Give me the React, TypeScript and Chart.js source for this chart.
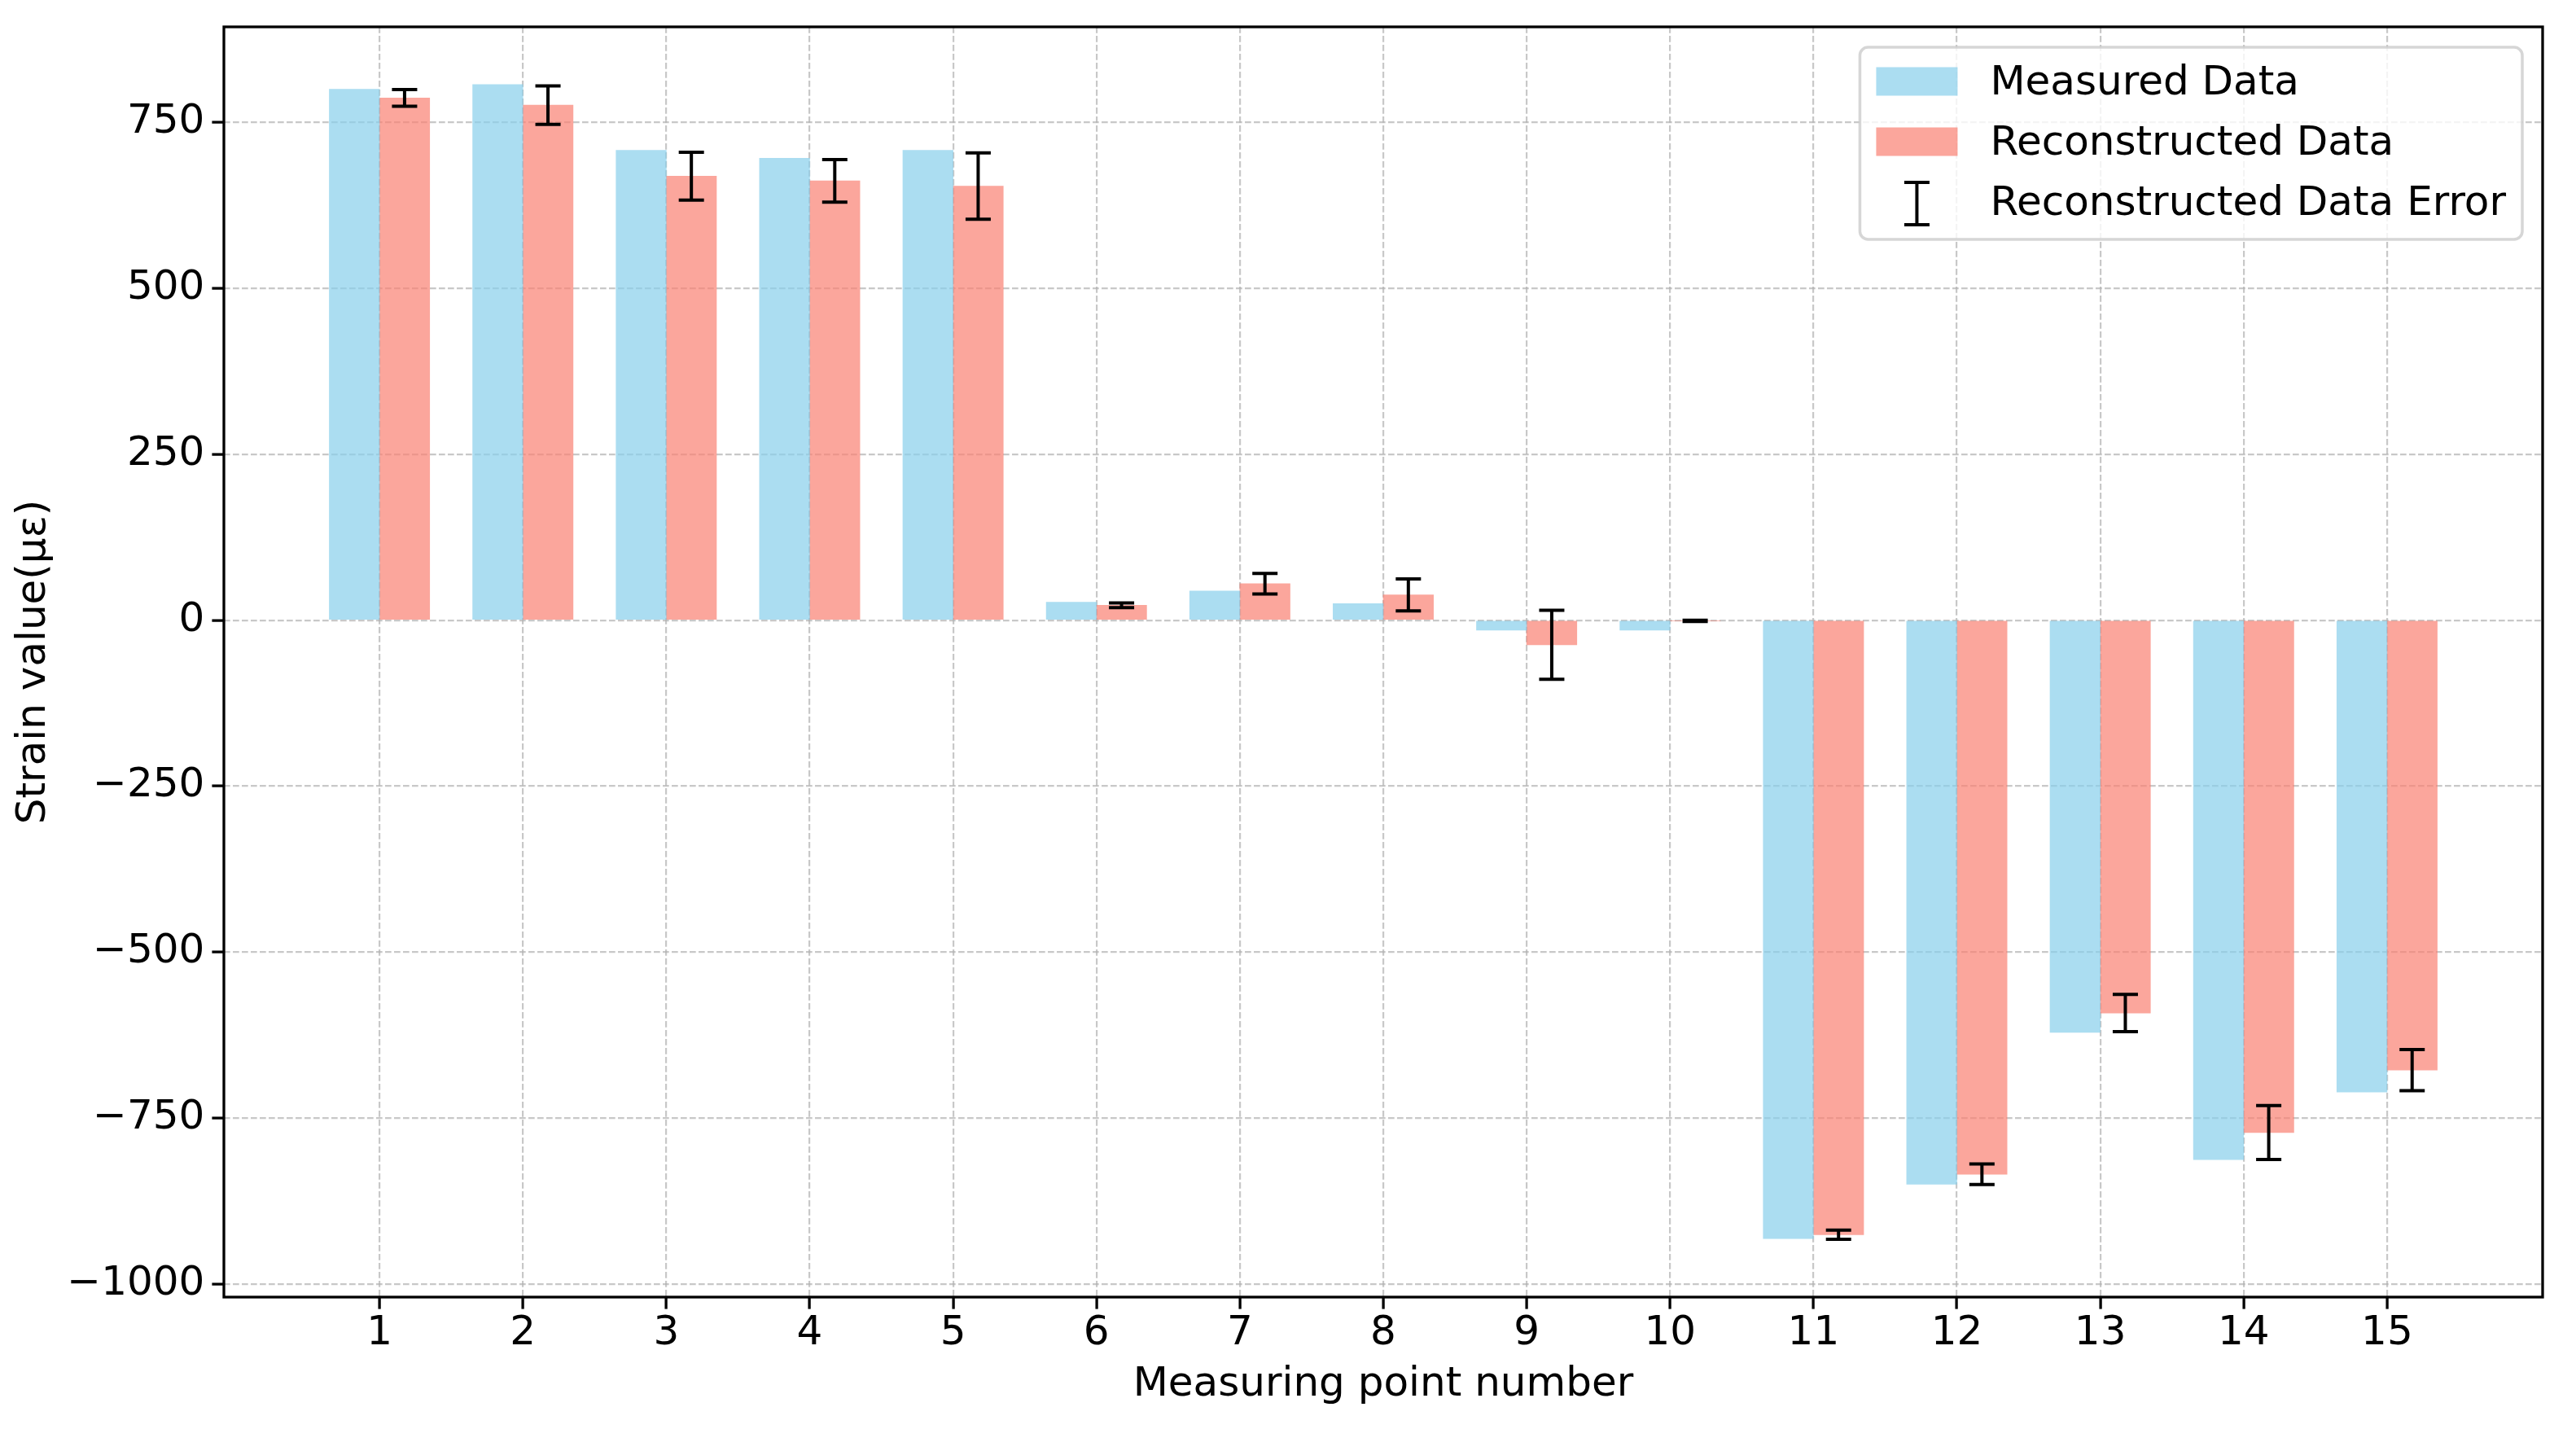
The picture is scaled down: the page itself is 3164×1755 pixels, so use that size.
import React, { useEffect, useRef } from 'react';
import { Chart, registerables } from 'chart.js';

Chart.register(...registerables);

// ---------------- data ----------------
const CATEGORIES = [1, 2, 3, 4, 5, 6, 7, 8, 9, 10, 11, 12, 13, 14, 15];
const MEASURED = [800, 807, 708, 696, 708, 27, 44, 25, -15, -15, -932, -850, -621, -813, -711];
const RECONSTRUCTED = [787, 776, 669, 662, 654, 22.5, 55, 38, -37, -1, -926, -835, -592, -772, -678];
const RECON_ERROR = [12.5, 29, 36, 32, 50, 3.5, 15.5, 24, 52, 1, 7, 15.5, 28, 40.5, 31];
const Y_TICKS = [-1000, -750, -500, -250, 0, 250, 500, 750];
const SERIES_LABELS = ['Measured Data', 'Reconstructed Data', 'Reconstructed Data Error'];
const X_TITLE = 'Measuring point number';
const Y_TITLE = 'Strain value(με)';

// ---------------- style / layout ----------------
const W = 3164;
const H = 1755;
const FONT = '"DejaVu Sans", "Noto Sans", sans-serif';
const FS = 50;
const BAR_W = 0.35;
const BLUE = 'rgba(135,206,235,0.7)';
const SALMON = 'rgba(250,128,114,0.7)';
const GRID = 'rgba(176,176,176,0.7)';
const PLOT_LEFT = 275;
const PLOT_RIGHT = 3123;
const PLOT_TOP = 33;
const PLOT_BOTTOM = 1593;
const CAP = 31;
const ERR_LW = 4;
const SPINE_LW = 3.3;

// axis ranges with matplotlib-like 5% margins, derived from the data
const xLo = Math.min(...CATEGORIES) - BAR_W;
const xHi = Math.max(...CATEGORIES) + BAR_W;
const xPad = (xHi - xLo) * 0.05;
const yVals = [
  ...MEASURED,
  ...RECONSTRUCTED.map((v, i) => v + RECON_ERROR[i]),
  ...RECONSTRUCTED.map((v, i) => v - RECON_ERROR[i]),
  0,
];
const yLo = Math.min(...yVals);
const yHi = Math.max(...yVals);
const yPad = (yHi - yLo) * 0.05;

const fmt = (v: number) => (v < 0 ? '\u2212' + Math.abs(v) : String(v));

const errorBarPlugin = {
  id: 'errorBars',
  afterDatasetsDraw(chart: any) {
    const { ctx, scales } = chart;
    const xs = scales.x;
    const ys = scales.y;
    ctx.save();
    ctx.strokeStyle = '#000';
    ctx.lineWidth = ERR_LW;
    CATEGORIES.forEach((c, i) => {
      const px = xs.getPixelForValue(c + BAR_W / 2);
      const top = ys.getPixelForValue(RECONSTRUCTED[i] + RECON_ERROR[i]);
      const bot = ys.getPixelForValue(RECONSTRUCTED[i] - RECON_ERROR[i]);
      ctx.beginPath();
      ctx.moveTo(px, top);
      ctx.lineTo(px, bot);
      ctx.moveTo(px - CAP / 2, top);
      ctx.lineTo(px + CAP / 2, top);
      ctx.moveTo(px - CAP / 2, bot);
      ctx.lineTo(px + CAP / 2, bot);
      ctx.stroke();
    });
    // frame (all four spines)
    const a = chart.chartArea;
    ctx.strokeStyle = '#000';
    ctx.lineWidth = SPINE_LW;
    ctx.strokeRect(a.left, a.top, a.right - a.left, a.bottom - a.top);
    ctx.restore();
  },
};

const legendPlugin = {
  id: 'mplLegend',
  afterDraw(chart: any) {
    const { ctx } = chart;
    const a = chart.chartArea;
    ctx.save();
    ctx.font = `${FS}px ${FONT}`;
    const maxW = Math.max(...SERIES_LABELS.map((t) => ctx.measureText(t).width));
    const borderPad = 0.4 * FS;
    const handleLen = 2.0 * FS;
    const handleH = 0.7 * FS;
    const textPad = 0.8 * FS;
    const rowH = 48;
    const rowGap = 0.5 * FS + 1;
    const boxW = borderPad * 2 + handleLen + textPad + maxW;
    const boxH = borderPad * 2 + rowH * 3 + rowGap * 2;
    const x0 = a.right - 0.5 * FS - boxW;
    const y0 = a.top + 0.5 * FS;
    // frame
    const r = 0.2 * FS;
    ctx.beginPath();
    ctx.moveTo(x0 + r, y0);
    ctx.lineTo(x0 + boxW - r, y0);
    ctx.arcTo(x0 + boxW, y0, x0 + boxW, y0 + r, r);
    ctx.lineTo(x0 + boxW, y0 + boxH - r);
    ctx.arcTo(x0 + boxW, y0 + boxH, x0 + boxW - r, y0 + boxH, r);
    ctx.lineTo(x0 + r, y0 + boxH);
    ctx.arcTo(x0, y0 + boxH, x0, y0 + boxH - r, r);
    ctx.lineTo(x0, y0 + r);
    ctx.arcTo(x0, y0, x0 + r, y0, r);
    ctx.closePath();
    ctx.fillStyle = 'rgba(255,255,255,0.8)';
    ctx.fill();
    ctx.strokeStyle = 'rgba(204,204,204,0.8)';
    ctx.lineWidth = 3.5;
    ctx.stroke();

    const hx = x0 + borderPad;
    const tx = hx + handleLen + textPad;
    const colors = [BLUE, SALMON];
    SERIES_LABELS.forEach((label, i) => {
      const cy = y0 + borderPad + rowH / 2 + i * (rowH + rowGap);
      if (i < 2) {
        ctx.fillStyle = colors[i];
        ctx.fillRect(hx, cy - handleH / 2 - 2, handleLen, handleH);
      } else {
        const cx = hx + handleLen / 2;
        const half = 26;
        ctx.strokeStyle = '#000';
        ctx.lineWidth = ERR_LW;
        ctx.beginPath();
        ctx.moveTo(cx, cy - half);
        ctx.lineTo(cx, cy + half);
        ctx.moveTo(cx - CAP / 2, cy - half);
        ctx.lineTo(cx + CAP / 2, cy - half);
        ctx.moveTo(cx - CAP / 2, cy + half);
        ctx.lineTo(cx + CAP / 2, cy + half);
        ctx.stroke();
      }
      ctx.fillStyle = '#000';
      ctx.textAlign = 'left';
      ctx.textBaseline = 'middle';
      ctx.fillText(label, tx, cy + 1);
    });
    ctx.restore();
  },
};

export default function App() {
  const ref = useRef<HTMLCanvasElement | null>(null);

  useEffect(() => {
    document.body.style.margin = '0';
    const canvas = ref.current;
    if (!canvas) return;
    Chart.defaults.font.family = FONT;
    Chart.defaults.color = '#000';

    const chart = new Chart(canvas, {
      type: 'bar',
      data: {
        datasets: [
          {
            label: SERIES_LABELS[0],
            data: CATEGORIES.map((c, i) => ({ x: c - BAR_W / 2, y: MEASURED[i] })),
            backgroundColor: BLUE,
            borderWidth: 0,
            grouped: false,
            categoryPercentage: 1,
            barPercentage: 1,
          } as any,
          {
            label: SERIES_LABELS[1],
            data: CATEGORIES.map((c, i) => ({ x: c + BAR_W / 2, y: RECONSTRUCTED[i] })),
            backgroundColor: SALMON,
            borderWidth: 0,
            grouped: false,
            categoryPercentage: 1,
            barPercentage: 1,
          } as any,
        ],
      },
      options: {
        responsive: false,
        animation: false,
        devicePixelRatio: 1,
        events: [],
        layout: {
          padding: { left: 0, right: W - PLOT_RIGHT, top: PLOT_TOP, bottom: 0 },
        },
        plugins: {
          legend: { display: false },
          tooltip: { enabled: false },
        },
        scales: {
          x: {
            type: 'linear',
            min: xLo - xPad,
            max: xHi + xPad,
            offset: false,
            afterBuildTicks: (s: any) => {
              s.ticks = CATEGORIES.map((v) => ({ value: v }));
            },
            afterFit: (s: any) => {
              s.height = H - PLOT_BOTTOM;
              s.paddingLeft = 0;
              s.paddingRight = 0;
            },
            grid: {
              offset: false,
              color: GRID,
              lineWidth: 2.2,
              drawTicks: true,
              tickLength: 14.6,
              tickColor: '#000',
              tickWidth: 3.3,
            },
            border: { display: false, dash: [7.7, 3.3] },
            ticks: {
              autoSkip: false,
              maxRotation: 0,
              padding: 5,
              font: { size: FS, lineHeight: 1 },
              color: '#000',
              callback: (v: any) => String(v),
            },
            title: {
              display: true,
              text: X_TITLE,
              font: { size: FS, lineHeight: 1 },
              color: '#000',
              padding: { top: 0, bottom: 29 },
            },
          } as any,
          y: {
            type: 'linear',
            min: yLo - yPad,
            max: yHi + yPad,
            afterBuildTicks: (s: any) => {
              s.ticks = Y_TICKS.map((v) => ({ value: v }));
            },
            afterFit: (s: any) => {
              s.width = PLOT_LEFT;
              s.paddingTop = 0;
              s.paddingBottom = 0;
            },
            grid: {
              color: GRID,
              lineWidth: 2.2,
              drawTicks: true,
              tickLength: 14.6,
              tickColor: '#000',
              tickWidth: 3.3,
            },
            border: { display: false, dash: [7.7, 3.3] },
            ticks: {
              padding: 9,
              font: { size: FS, lineHeight: 1 },
              color: '#000',
              callback: (v: any) => fmt(Number(v)),
            },
            title: {
              display: true,
              text: Y_TITLE,
              font: { size: FS, lineHeight: 1 },
              color: '#000',
              padding: { top: 17, bottom: 0 },
            },
          } as any,
        },
      },
      plugins: [errorBarPlugin, legendPlugin],
    });

    return () => {
      chart.destroy();
    };
  }, []);

  return (
    <div style={{ position: 'absolute', left: 0, top: 0, width: W, height: H, background: '#fff' }}>
      <canvas ref={ref} width={W} height={H} style={{ width: W, height: H, display: 'block' }} />
    </div>
  );
}
